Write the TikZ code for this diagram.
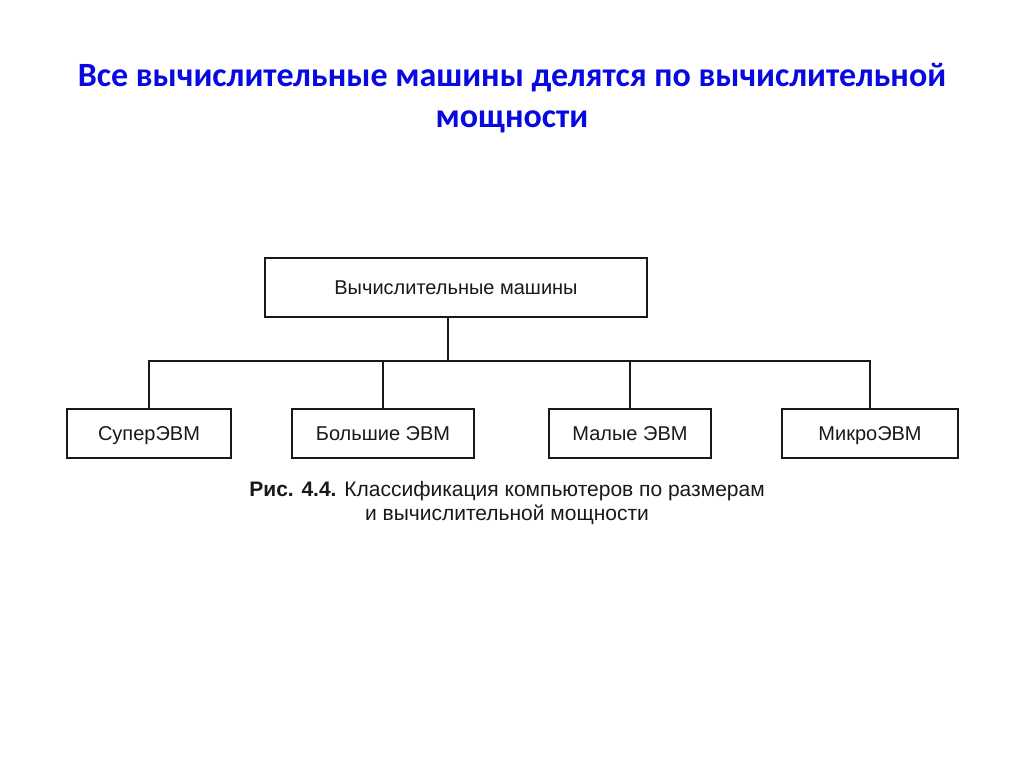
\documentclass[tikz,border=0pt]{standalone}
\usepackage{fontspec}
\setmainfont{Liberation Sans}
\newfontfamily\titlefont{Carlito}
\definecolor{titleblue}{RGB}{8,8,225}
\definecolor{inkgray}{RGB}{25,25,25}
\tikzset{
  box/.style={draw=inkgray, line width=2pt, fill=white, inner sep=0pt, text=inkgray,
    text height=14.3pt, text depth=0pt, font=\fontsize{20}{24}\selectfont},
  link/.style={draw=inkgray, line width=1.8pt, line join=miter},
}
\begin{document}
\begin{tikzpicture}[x=1pt,y=-1pt]
\useasboundingbox[fill=white] (0,0) rectangle (1024,767);
\node[text=titleblue, font=\titlefont\bfseries\fontsize{34}{41}\selectfont, align=center] (title) at (512,98)
  {Все вычислительные машины делятся по вычислительной\\мощности};
\node[box, minimum width=382pt, minimum height=59pt] (top) at (456,287) {Вычислительные машины};
\node[box, minimum width=164pt, minimum height=49pt] (sup) at (149,433) {СуперЭВМ};
\node[box, minimum width=182pt, minimum height=49pt] (big) at (383,433) {Большие ЭВМ};
\node[box, minimum width=162pt, minimum height=49pt] (sml) at (630,433) {Малые ЭВМ};
\node[box, minimum width=176pt, minimum height=49pt] (mic) at (870,433) {МикроЭВМ};
\coordinate (j) at (448,361);
\draw[link] (top.south -| j) -- (j);
\draw[link] (sup.north) -- (sup.north |- j) -- (mic.north |- j) -- (mic.north);
\draw[link] (big.north) -- (big.north |- j);
\draw[link] (sml.north) -- (sml.north |- j);
\node[text=inkgray, font=\fontsize{21}{24}\selectfont, align=center] (cap) at (507,503)
  {\textbf{Рис. 4.4.} Классификация компьютеров по размерам\\и вычислительной мощности};
\end{tikzpicture}
\end{document}
